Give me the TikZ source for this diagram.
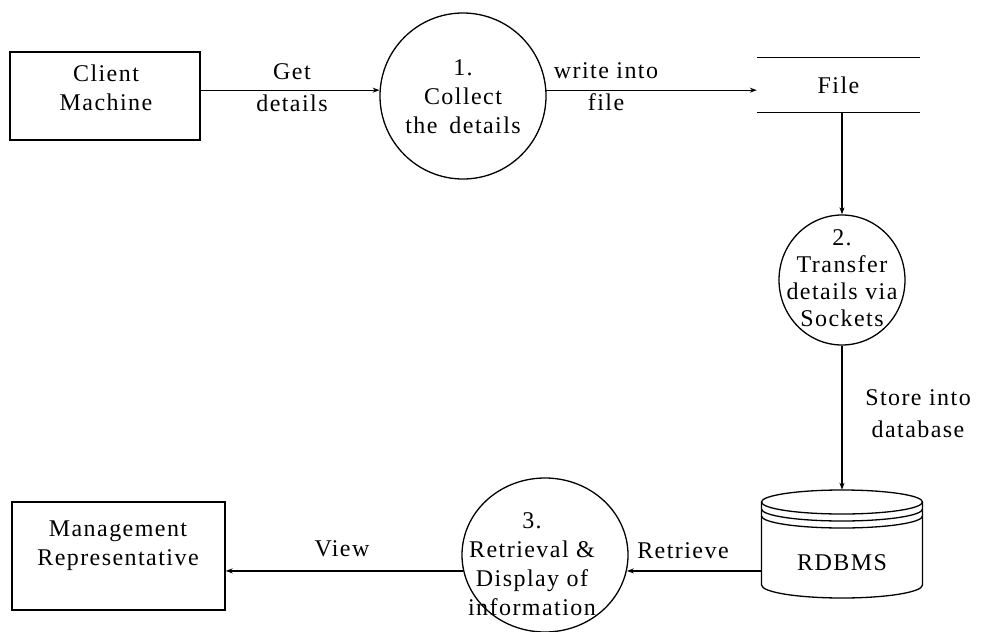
\documentclass[tikz,border=0pt]{standalone}
\usepackage{fontspec}
\setmainfont{Liberation Serif}[LetterSpace=6]
\usetikzlibrary{arrows.meta,shapes.geometric}

\begin{document}
\begin{tikzpicture}[x=1pt,y=-1pt,
  every node/.style={font=\fontsize{24}{29}\selectfont, align=center},
  txt/.style={inner sep=0pt},
  proc/.style={draw, ellipse, line width=1.3pt, inner sep=0pt},
  ent/.style={draw, rectangle, line width=1.3pt, inner sep=0pt},
  flow/.style={-{Stealth[length=7pt,width=5pt]}, line width=1.3pt},
  lbl/.style={inner sep=1pt, font=\fontsize{24}{32}\selectfont},
  edge line/.style={line width=1.3pt}]
\useasboundingbox (0,0) rectangle (991,632);

% external entities
\node[ent, minimum width=190, minimum height=88] (client) at (105,96) {};
\node[txt] (clienttxt) at (106,88) {Client\\Machine};
\node[ent, minimum width=213, minimum height=108] (mgmt) at (118.5,556) {};
\node[txt] (mgmttxt) at (118,546) {Management\\Representative};

% processes
\node[proc, minimum width=166, minimum height=166] (p1) at (463,96) {};
\node[txt] (p1txt) at (463,97) {1.\\Collect\\the\enspace details};
\node[proc, minimum width=126, minimum height=130] (p2) at (842,280) {};
\node[txt, font=\fontsize{24}{27}\selectfont] (p2txt) at (842,278) {2.\\Transfer\\details via\\Sockets};
\node[proc, minimum width=166, minimum height=154] (p3) at (545,555) {};
\node[txt] (p3txt) at (532,564) {3.\\Retrieval \&\\Display of\\information};

% data store: file
\node[minimum width=163, minimum height=55, inner sep=0pt] (file) at (838.5,85) {File};
\draw[edge line] (file.north west) -- (file.north east);
\draw[edge line] (file.south west) -- (file.south east);

% data store: database cylinder
\node[minimum width=161, minimum height=108, inner sep=0pt] (db) at (842,544) {};
\node[txt] (dbtxt) at (842,563) {RDBMS};
\draw[edge line] (842,502) ellipse[x radius=80.5, y radius=12];
\draw[edge line] (761.5,509) arc[start angle=180, end angle=0, x radius=80.5, y radius=12];
\draw[edge line] (761.5,516) arc[start angle=180, end angle=0, x radius=80.5, y radius=12];
\draw[edge line] (761.5,502) -- (761.5,585) arc[start angle=180, end angle=0, x radius=80.5, y radius=13] -- (922.5,502);

% data flows
\draw[flow] (client.east |- p1.176) -- (p1.176);
\draw[flow] (p1.4) -- (p1.4 -| file.west);
\draw[flow] (file.south -| p2.north) -- (p2.north);
\draw[flow] (p2.south) -- (db.north);
\draw[flow] (db.west |- p3.-11) -- (p3.-11);
\draw[flow] (p3.191) -- (p3.191 -| mgmt.east);

% flow labels
\node[lbl] (lget) at (292,88) {Get\\details};
\node[lbl] (lwrite) at (606,87) {write into\\file};
\node[lbl] (lstore) at (918,414) {Store into\\database};
\node[lbl] (lretr) at (683,551) {Retrieve};
\node[lbl] (lview) at (342,549) {View};
\end{tikzpicture}
\end{document}
